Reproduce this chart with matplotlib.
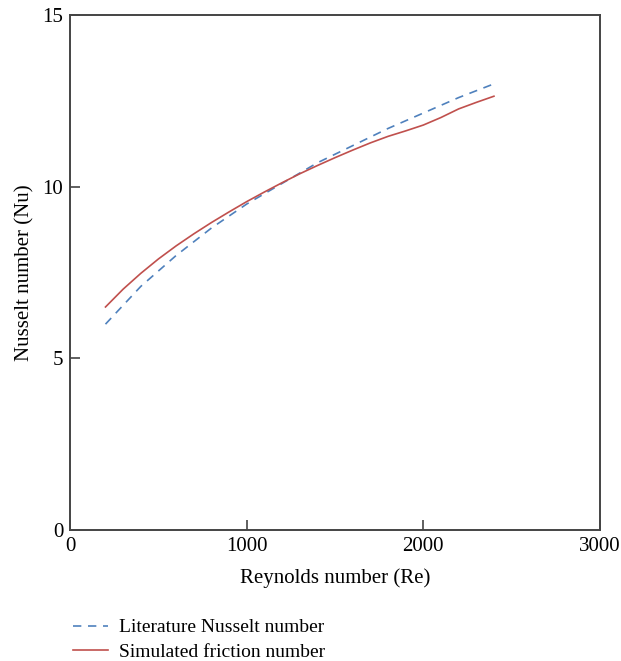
import matplotlib.pyplot as plt
import numpy as np

plt.rcParams['font.family'] = ['Liberation Serif', 'DejaVu Serif']

# Values
re_lit = [200, 400, 600, 800, 1000, 1200, 1400, 1600, 1800, 2000, 2200, 2400]
nu_lit = [6.0, 7.1, 8.0, 8.8, 9.5, 10.1, 10.7, 11.2, 11.7, 12.15, 12.6, 13.0]

re_sim = [200, 300, 400, 500, 600, 700, 800, 900, 1000, 1100, 1200, 1300, 1400,
          1500, 1600, 1700, 1800, 1900, 2000, 2100, 2200, 2300, 2400]
nu_sim = [6.5, 7.02, 7.48, 7.9, 8.28, 8.63, 8.96, 9.27, 9.57, 9.85, 10.12, 10.38, 10.62,
          10.85, 11.07, 11.28, 11.47, 11.63, 11.8, 12.02, 12.27, 12.46, 12.64]

xticks = [0, 1000, 2000, 3000]
yticks = [0, 5, 10, 15]

fig = plt.figure(figsize=(6.21, 6.61), dpi=100)
ax = fig.add_axes([0.113, 0.198, 0.853, 0.779])

ax.plot(re_lit, nu_lit, color='#4f81bd', lw=1.2, ls=(0, (5, 4)),
        label='Literature Nusselt number')
ax.plot(re_sim, nu_sim, color='#c0504d', lw=1.2,
        label='Simulated friction number')

ax.set_xlim(0, 3000)
ax.set_ylim(0, 15)
ax.set_xticks(xticks)
ax.set_yticks(yticks)

# Spines
for s in ax.spines.values():
    s.set_color('#444444')
    s.set_linewidth(1.4)

ax.tick_params(direction='in', length=7, width=1.2, color='#444444',
               labelsize=15, pad=5)
ax.set_xlabel('Reynolds number (Re)', fontsize=15, labelpad=9)
ax.set_ylabel('Nusselt number (Nu)', fontsize=15, labelpad=6)

ax.legend(loc='upper left', bbox_to_anchor=(-0.01, -0.157), frameon=False,
          fontsize=14, handlelength=1.8, labelspacing=0.35, handletextpad=0.6,
          borderaxespad=0)

fig.savefig('out.png', dpi=100)
